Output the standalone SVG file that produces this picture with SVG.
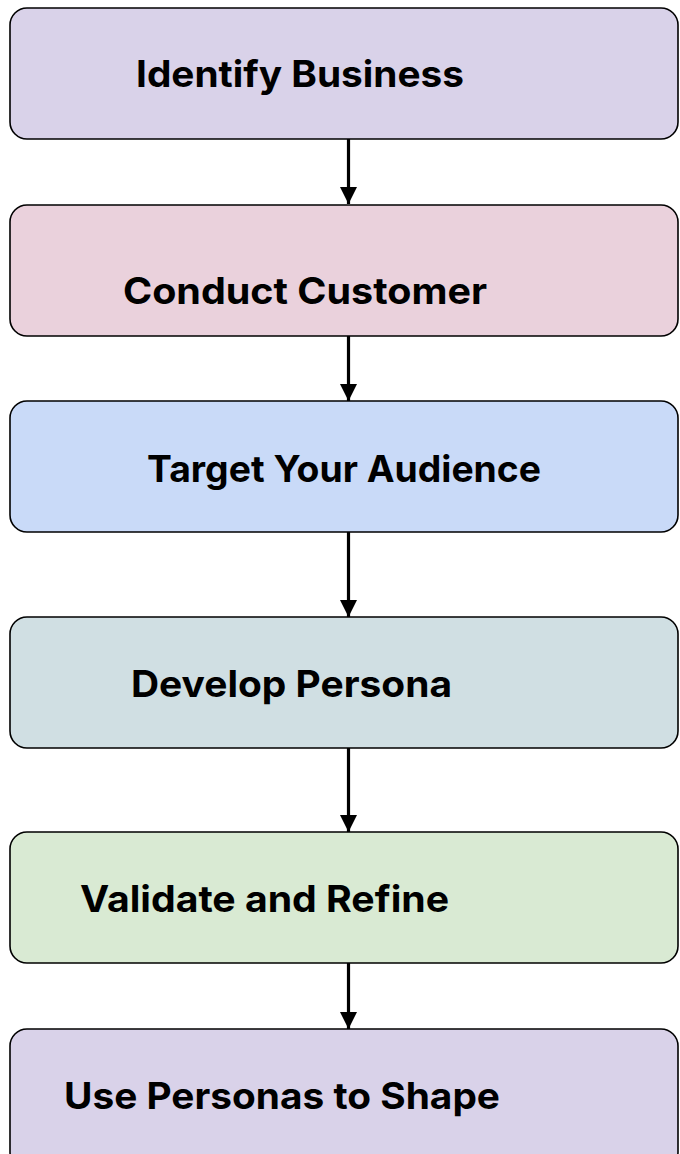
<svg xmlns="http://www.w3.org/2000/svg" width="680" height="1154" viewBox="0 0 680 1154">
  <defs>
    <style>
      .box { stroke: #000; stroke-width: 1.6; }
      .label { font-family: Inter, "Liberation Sans", sans-serif; font-weight: 700; font-size: 37px; fill: #000; }
      .link { stroke: #000; stroke-width: 3.2; fill: none; }
    </style>
    <marker id="arrow" viewBox="0 0 10 10" refX="10" refY="5" markerUnits="userSpaceOnUse" markerWidth="17" markerHeight="17" orient="auto">
      <path d="M0,0 L10,5 L0,10 z" fill="#000"/>
    </marker>
  </defs>
  <rect width="680" height="1154" fill="#fff"/>

  <!-- flow connectors -->
  <g id="connectors">
    <line class="link" x1="348.5" y1="139" x2="348.5" y2="204" marker-end="url(#arrow)"/>
    <line class="link" x1="348.5" y1="336" x2="348.5" y2="401" marker-end="url(#arrow)"/>
    <line class="link" x1="348.5" y1="532" x2="348.5" y2="617" marker-end="url(#arrow)"/>
    <line class="link" x1="348.5" y1="748" x2="348.5" y2="832" marker-end="url(#arrow)"/>
    <line class="link" x1="348.5" y1="963" x2="348.5" y2="1029" marker-end="url(#arrow)"/>
  </g>

  <g id="step-identify">
    <rect class="box" x="10" y="8" width="668" height="131" rx="17" fill="#D9D2E9"/>
    <text class="label" x="136" y="87" textLength="328" lengthAdjust="spacingAndGlyphs">Identify Business</text>
  </g>

  <g id="step-conduct">
    <rect class="box" x="10" y="205" width="668" height="131" rx="17" fill="#EAD1DC"/>
    <text class="label" x="123" y="304" textLength="364" lengthAdjust="spacingAndGlyphs">Conduct Customer</text>
  </g>

  <g id="step-target">
    <rect class="box" x="10" y="401" width="668" height="131" rx="17" fill="#C9DAF8"/>
    <text class="label" x="147" y="482" textLength="394" lengthAdjust="spacingAndGlyphs">Target Your Audience</text>
  </g>

  <g id="step-develop">
    <rect class="box" x="10" y="617" width="668" height="131" rx="17" fill="#D0DFE3"/>
    <text class="label" x="131" y="697" textLength="321" lengthAdjust="spacingAndGlyphs">Develop Persona</text>
  </g>

  <g id="step-validate">
    <rect class="box" x="10" y="832" width="668" height="131" rx="17" fill="#D9EAD3"/>
    <text class="label" x="80" y="912" textLength="369" lengthAdjust="spacingAndGlyphs">Validate and Refine</text>
  </g>

  <g id="step-use">
    <rect class="box" x="10" y="1029" width="668" height="140" rx="17" fill="#D9D2E9"/>
    <text class="label" x="64" y="1109" textLength="436" lengthAdjust="spacingAndGlyphs">Use Personas to Shape</text>
  </g>
</svg>
